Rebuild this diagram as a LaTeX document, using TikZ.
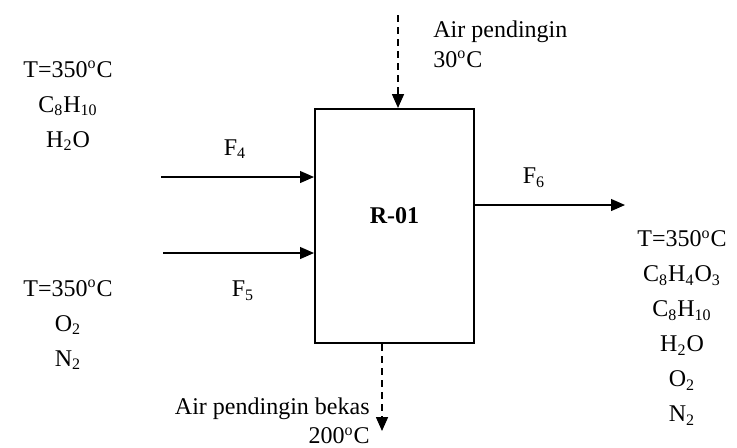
\documentclass[tikz,border=0pt]{standalone}
\usepackage{fontspec}
\setmainfont{Liberation Serif}
\usetikzlibrary{arrows.meta, positioning}

\begin{document}
\begin{tikzpicture}[
  x=0.5pt, y=-0.5pt,
  font=\fontsize{12}{17.5}\selectfont,
  reattore/.style={draw=black, line width=1pt, fill=white,
                   minimum width=79.5pt, minimum height=117pt, inner sep=0pt},
  testo/.style={align=center, inner sep=0pt},
  corrente/.style={draw=black, line width=0.6pt, -{Triangle[length=7pt, width=6pt]}},
  pendingin/.style={corrente, line width=0.8pt, dash pattern=on 3.5pt off 2.5pt}
]

% cornice fissa, come l'originale
\useasboundingbox (0,0) rectangle (737,447);

% ---- reattore --------------------------------------------------------
\node[reattore, label={[font=\fontsize{12}{14}\selectfont\bfseries, yshift=5pt]center:R-01}] (r01) at (394.5,226) {};

% ---- estremi liberi delle correnti ----------------------------------
\coordinate (in4)  at (161,177);
\coordinate (in5)  at (163,253);
\coordinate (out6) at (625,205);
\coordinate (cwin) at (398,15);
\coordinate (cwout) at (382,431);

% ---- correnti --------------------------------------------------------
\draw[corrente] (in4) -- (in4 -| r01.west);
\draw[corrente] (in5) -- (in5 -| r01.west);
\draw[corrente] (out6 -| r01.east) -- (out6);
\draw[pendingin] (cwin) -- (cwin |- r01.north);
\draw[pendingin] (cwout |- r01.south) -- (cwout);

% ---- etichette delle correnti ---------------------------------------
\node[testo] (f4) at (235,149) {F\textsubscript{4}};
\node[testo] (f5) at (243,291) {F\textsubscript{5}};
\node[testo] (f6) at (534,178) {F\textsubscript{6}};

% ---- composizioni ----------------------------------------------------
\node[testo] (comp4) at (68,106) {T=350\textsuperscript{o}C\\C\textsubscript{8}H\textsubscript{10}\\H\textsubscript{2}O};
\node[testo] (comp5) at (68,325) {T=350\textsuperscript{o}C\\O\textsubscript{2}\\N\textsubscript{2}};
\node[testo] (comp6) at (682,328) {T=350\textsuperscript{o}C\\C\textsubscript{8}H\textsubscript{4}O\textsubscript{3}\\C\textsubscript{8}H\textsubscript{10}\\H\textsubscript{2}O\\O\textsubscript{2}\\N\textsubscript{2}};

\node[testo, font=\fontsize{12}{15}\selectfont, align=left, anchor=west] (cwtesto) at (433,44) {Air pendingin\\30\textsuperscript{o}C};
\node[testo, font=\fontsize{12}{14.5}\selectfont, align=right, anchor=east] (cwbekas) at (370,421) {Air pendingin bekas\\200\textsuperscript{o}C};

\end{tikzpicture}
\end{document}
